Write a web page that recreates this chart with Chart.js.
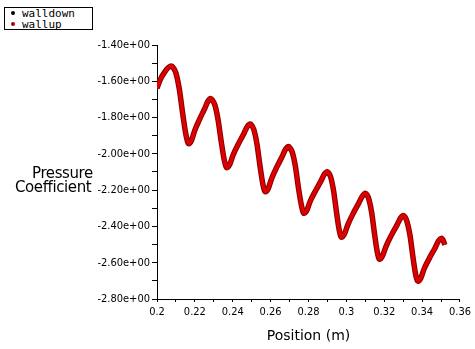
<!DOCTYPE html>
<html>
<head>
<meta charset="utf-8">
<script src="https://cdn.jsdelivr.net/npm/chart.js@4/dist/chart.umd.min.js"></script>
<style>
  html,body{margin:0;padding:0;background:#fff;}
  #wrap{position:relative;width:475px;height:349px;overflow:hidden;}
  #c{position:absolute;left:0;top:0;}
  #legend{position:absolute;left:4px;top:7px;width:87px;height:21px;border:1px solid #000;overflow:hidden;
    font-family:"DejaVu Sans Mono",monospace;font-size:11px;line-height:11px;color:#000;background:#fff;}
  #legend .row{position:relative;height:11px;padding-left:17px;white-space:nowrap;}
  #legend .dot{position:absolute;left:6px;top:3px;width:4px;height:4px;border-radius:50%;}
  .ylab{position:absolute;font-family:"DejaVu Sans",sans-serif;font-size:15px;line-height:14px;
    letter-spacing:-0.4px;color:#000;white-space:nowrap;}
</style>
</head>
<body>
<div id="wrap">
<canvas id="c" width="475" height="349"></canvas>
<div id="legend">
  <div class="row"><span class="dot" style="background:#000"></span>walldown</div>
  <div class="row"><span class="dot" style="background:#b00000"></span>wallup</div>
</div>
<div class="ylab" style="left:32px;top:166px;">Pressure</div>
<div class="ylab" style="left:15px;top:180px;">Coefficient</div>
</div>
<script>
// Position along the wall (m)
const positions = [
  0.2000, 0.2016, 0.2042, 0.2060, 0.2077,
  0.2086, 0.2100, 0.2118, 0.2136, 0.2154, 0.2168,
  0.2182, 0.2199, 0.2226, 0.2252, 0.2269, 0.2283,
  0.2292, 0.2305, 0.2322, 0.2339, 0.2356, 0.2369,
  0.2384, 0.2402, 0.2431, 0.2459, 0.2477, 0.2492,
  0.2500, 0.2512, 0.2528, 0.2544, 0.2560, 0.2572,
  0.2587, 0.2605, 0.2633, 0.2661, 0.2679, 0.2694,
  0.2702, 0.2715, 0.2731, 0.2747, 0.2764, 0.2776,
  0.2791, 0.2809, 0.2838, 0.2866, 0.2884, 0.2899,
  0.2907, 0.2918, 0.2933, 0.2948, 0.2963, 0.2974,
  0.2989, 0.3008, 0.3037, 0.3066, 0.3085, 0.3100,
  0.3108, 0.3119, 0.3134, 0.3149, 0.3164, 0.3175,
  0.3190, 0.3209, 0.3238, 0.3267, 0.3286, 0.3301,
  0.3309, 0.3320, 0.3336, 0.3351, 0.3366, 0.3378,
  0.3393, 0.3411, 0.3440, 0.3469, 0.3487, 0.3502,
  0.3511, 0.3520
];
// Pressure coefficient on the lower wall
const walldownCp = [
  -1.639, -1.593, -1.547, -1.524, -1.516,
  -1.525, -1.555, -1.644, -1.781, -1.901, -1.944,
  -1.927, -1.872, -1.807, -1.750, -1.710, -1.695,
  -1.703, -1.729, -1.809, -1.931, -2.038, -2.076,
  -2.059, -2.006, -1.943, -1.888, -1.849, -1.835,
  -1.842, -1.869, -1.947, -2.067, -2.172, -2.209,
  -2.192, -2.137, -2.072, -2.015, -1.975, -1.960,
  -1.967, -1.993, -2.070, -2.188, -2.291, -2.328,
  -2.312, -2.261, -2.202, -2.149, -2.112, -2.098,
  -2.105, -2.131, -2.207, -2.322, -2.424, -2.460,
  -2.443, -2.390, -2.326, -2.270, -2.232, -2.217,
  -2.224, -2.250, -2.326, -2.443, -2.545, -2.581,
  -2.564, -2.511, -2.448, -2.393, -2.354, -2.340,
  -2.347, -2.373, -2.449, -2.564, -2.666, -2.702,
  -2.685, -2.633, -2.572, -2.517, -2.479, -2.465,
  -2.476, -2.502
];
// Upper wall: indistinguishable from the lower wall in the picture
const wallupCp = walldownCp.slice();

const yTicks = { min: -2.8, max: -1.4, step: 0.1 };
const xTicks = { min: 0.2, max: 0.36, step: 0.01 };

const tickFont = { family: '"DejaVu Sans Condensed","Liberation Sans Narrow","DejaVu Sans",sans-serif', size: 11 };

new Chart(document.getElementById('c'), {
  type: 'line',
  data: {
    datasets: [
      {
        label: 'wallup',
        data: positions.map((x, i) => ({ x: x, y: wallupCp[i] })),
        borderColor: '#dc0000',
        borderWidth: 3.5,
        pointRadius: 0,
        cubicInterpolationMode: 'monotone',
        fill: false
      },
      {
        label: 'walldown',
        data: positions.map((x, i) => ({ x: x, y: walldownCp[i] })),
        borderColor: '#8a0000',
        borderWidth: 5.5,
        pointRadius: 0,
        cubicInterpolationMode: 'monotone',
        fill: false
      }
    ]
  },
  options: {
    responsive: false,
    animation: false,
    layout: { padding: { left: 0, top: 45, right: 13, bottom: 0 } },
    plugins: { legend: { display: false }, tooltip: { enabled: false } },
    scales: {
      x: {
        type: 'linear',
        min: xTicks.min, max: xTicks.max,
        border: { display: true, color: '#000', width: 1 },
        grid: { drawOnChartArea: false, drawTicks: true, tickLength: 3, color: '#000' },
        ticks: {
          stepSize: xTicks.step,
          color: '#000',
          font: tickFont,
          padding: 4,
          autoSkip: false,
          maxRotation: 0,
          callback: (v) => (Math.round(v * 100) % 2 === 0) ? String(Number(v.toFixed(2))) : ''
        },
        title: {
          display: true,
          text: 'Position (m)',
          color: '#000',
          font: { family: '"DejaVu Sans",sans-serif', size: 14 },
          padding: { top: 4, bottom: 4 }
        },
        afterFit: (s) => { s.height = 50; }
      },
      y: {
        type: 'linear',
        min: yTicks.min, max: yTicks.max,
        border: { display: true, color: '#000', width: 1 },
        grid: { drawOnChartArea: false, drawTicks: true, tickLength: 5, color: '#000' },
        ticks: {
          stepSize: yTicks.step,
          color: '#000',
          font: tickFont,
          padding: 2,
          autoSkip: false,
          callback: (v) => (Math.round(v * 10) % 2 === 0) ? v.toFixed(2) + 'e+00' : ''
        },
        afterFit: (s) => { s.width = 157; }
      }
    }
  }
});
</script>
</body>
</html>
